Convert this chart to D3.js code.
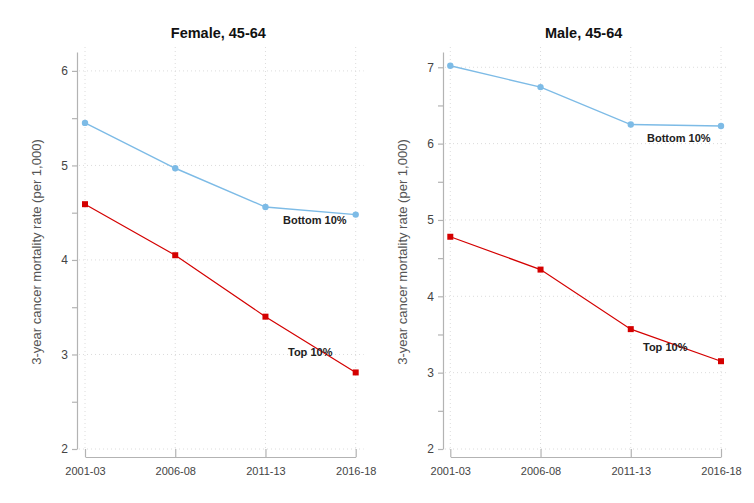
<!DOCTYPE html>
<html>
<head>
<meta charset="utf-8">
<script src="https://cdn.jsdelivr.net/npm/d3@7"></script>
<style>
  body { margin: 0; background: #fff; }
  svg { font-family: "Liberation Sans", Arial, sans-serif; }
</style>
</head>
<body>
<svg width="754" height="503"></svg>
<script>
var periods = ["2001-03", "2006-08", "2011-13", "2016-18"];
var panelTitles = ["Female, 45-64", "Male, 45-64"];
var femaleBottom = [5.45, 4.97, 4.56, 4.48];
var femaleTop = [4.59, 4.05, 3.40, 2.81];
var maleBottom = [7.02, 6.74, 6.25, 6.23];
var maleTop = [4.78, 4.35, 3.57, 3.15];
var femaleTicks = [2, 3, 4, 5, 6];
var maleTicks = [2, 3, 4, 5, 6, 7];
var yLabel = "3-year cancer mortality rate (per 1,000)";

var blue = "#7dbbe6", red = "#d40000", axisGrey = "#b3b3b3";

var svg = d3.select("svg");

function drawPanel(opt) {
    var g = svg.append("g");

    var x = d3.scalePoint().domain(periods).range([opt.x0, opt.x1]);
    var y = d3.scaleLinear().domain([2, opt.yMax]).range([449, 52]);

    // dotted grid
    g.append("g").selectAll("line.h")
        .data(opt.ticks)
        .enter().append("line")
        .attr("x1", opt.axisX + 2).attr("x2", opt.x1 + 8)
        .attr("y1", function(d) { return y(d); })
        .attr("y2", function(d) { return y(d); })
        .attr("stroke", "#dcdcdc").attr("stroke-dasharray", "1,3");
    g.append("g").selectAll("line.v")
        .data(periods)
        .enter().append("line")
        .attr("x1", function(d) { return x(d); })
        .attr("x2", function(d) { return x(d); })
        .attr("y1", 47).attr("y2", 449)
        .attr("stroke", "#dcdcdc").attr("stroke-dasharray", "1,3");

    // y axis with minor ticks
    var minor = [];
    for (var v = 2.5; v < opt.yMax; v += 1) minor.push(v);
    var yAxis = g.append("g")
        .attr("transform", "translate(" + opt.axisX + ",0)")
        .call(d3.axisLeft(y).tickValues(opt.ticks).tickFormat(d3.format("d"))
            .tickSize(5).tickSizeOuter(0).tickPadding(4));
    g.append("g")
        .attr("transform", "translate(" + opt.axisX + ",0)")
        .call(d3.axisLeft(y).tickValues(minor).tickSize(5).tickSizeOuter(0).tickFormat(""))
        .select(".domain").remove();

    // x axis
    var xAxis = g.append("g")
        .attr("transform", "translate(0,457)")
        .call(d3.axisBottom(x).tickSize(-8).tickSizeOuter(0).tickPadding(16));

    g.selectAll(".domain").attr("stroke", axisGrey).attr("stroke-width", 1.2);
    g.selectAll(".tick line").attr("stroke", axisGrey).attr("stroke-width", 1.2);
    g.selectAll(".tick text").attr("fill", "#444").attr("font-size", 11)
        .attr("font-family", "Liberation Sans, Arial, sans-serif");
    xAxis.selectAll(".tick text").attr("dy", "0.35em").attr("y", 14);
    yAxis.selectAll(".tick text").attr("font-size", 12);

    // title
    g.append("text")
        .attr("x", (opt.x0 + opt.x1) / 2 - 2)
        .attr("y", 38)
        .attr("text-anchor", "middle")
        .attr("font-size", 14.5)
        .attr("font-weight", "bold")
        .attr("fill", "#111")
        .text(opt.title);

    // y label
    g.append("text")
        .attr("transform", "translate(" + opt.labelX + ",252) rotate(-90)")
        .attr("text-anchor", "middle")
        .attr("font-size", 13)
        .attr("fill", "#555")
        .text(yLabel);

    var line = d3.line()
        .x(function(d, i) { return x(periods[i]); })
        .y(function(d) { return y(d); });

    // bottom 10%
    g.append("path").datum(opt.bottom)
        .attr("fill", "none").attr("stroke", blue).attr("stroke-width", 1.4)
        .attr("d", line);
    g.selectAll("circle.b").data(opt.bottom).enter().append("circle")
        .attr("cx", function(d, i) { return x(periods[i]); })
        .attr("cy", function(d) { return y(d); })
        .attr("r", 3.2).attr("fill", blue);

    // top 10%
    g.append("path").datum(opt.top)
        .attr("fill", "none").attr("stroke", red).attr("stroke-width", 1.2)
        .attr("d", line);
    g.selectAll("rect.t").data(opt.top).enter().append("rect")
        .attr("x", function(d, i) { return x(periods[i]) - 3; })
        .attr("y", function(d) { return y(d) - 3; })
        .attr("width", 6).attr("height", 6).attr("fill", red);

    g.append("text").attr("x", opt.bottomLab[0]).attr("y", opt.bottomLab[1])
        .attr("font-size", 11).attr("font-weight", "bold").attr("fill", "#222")
        .text("Bottom 10%");
    g.append("text").attr("x", opt.topLab[0]).attr("y", opt.topLab[1])
        .attr("font-size", 11).attr("font-weight", "bold").attr("fill", "#222")
        .text("Top 10%");
}

drawPanel({
    title: panelTitles[0], x0: 85, x1: 355.7, axisX: 77, labelX: 41,
    yMax: 6.2, ticks: femaleTicks, bottom: femaleBottom, top: femaleTop,
    bottomLab: [283, 224], topLab: [288, 356]
});
drawPanel({
    title: panelTitles[1], x0: 450.3, x1: 721, axisX: 443, labelX: 407,
    yMax: 7.2, ticks: maleTicks, bottom: maleBottom, top: maleTop,
    bottomLab: [647, 142], topLab: [643, 351]
});
</script>
</body>
</html>
